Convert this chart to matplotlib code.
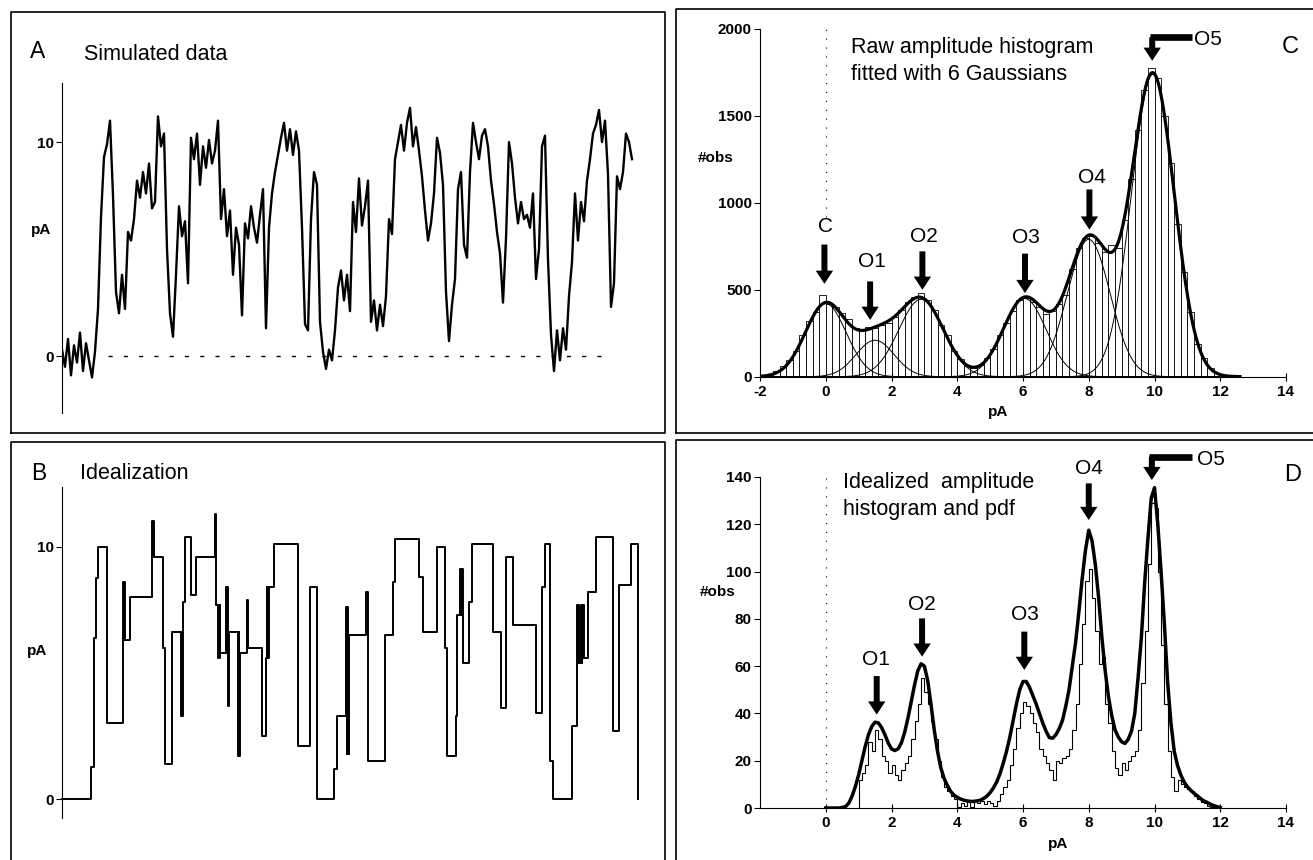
import numpy as np
import matplotlib.pyplot as plt
from matplotlib.lines import Line2D

plt.rcParams['font.family'] = ['Liberation Sans', 'DejaVu Sans']

W, H = 1313, 860

# A: simulated current trace (pA), one sample every a_dt time units
a_dt = 3
a_current = [
    0.3, -0.5, 0.8, -0.9, 0.5, -0.3, 1.1, -0.7, 0.6, -0.2, -1.0, 0.2,
    2.2, 6.5, 9.3, 9.9, 11.0, 7.5, 3.0, 2.0, 3.8, 2.2,
    5.8, 5.4, 6.4, 8.2, 7.4, 8.6, 7.6, 9.0, 6.9, 7.2,
    11.2, 9.8, 10.4, 5.0, 2.0, 0.9, 3.8, 7.0, 5.6, 6.3,
    3.4, 10.2, 9.2, 10.4, 8.0, 9.8, 8.8, 10.1, 9.0, 9.6,
    11.0, 6.4, 7.8, 5.6, 6.8, 3.8, 6.0, 5.2, 1.9, 6.2,
    5.5, 7.0, 6.0, 5.3, 6.6, 7.8, 1.3, 6.0, 7.6, 8.6,
    9.4, 10.2, 10.9, 9.6, 10.6, 9.4, 10.5, 9.6, 6.0, 1.5,
    1.2, 6.4, 8.6, 8.0, 1.6, 0.2, -0.6, 0.3, -0.2, 1.2,
    3.2, 4.0, 2.6, 3.8, 2.1, 7.2, 5.8, 8.3, 6.1, 7.0,
    8.2, 1.6, 2.6, 1.2, 2.4, 1.4, 2.8, 6.4, 5.7, 9.2,
    10.0, 10.8, 9.6, 10.9, 11.6, 9.8, 10.7, 9.6, 8.4, 6.8,
    5.4, 6.2, 7.6, 10.2, 9.5, 8.0, 3.0, 0.7, 2.4, 3.6,
    7.8, 8.6, 5.2, 4.6, 8.6, 10.9, 10.0, 9.2, 10.3, 10.6,
    9.8, 8.2, 7.1, 5.8, 4.8, 2.5, 5.5, 10.0, 9.0, 7.4,
    6.2, 7.2, 6.4, 6.6, 6.0, 7.6, 3.6, 5.0, 9.8, 10.3,
    4.5, 1.0, -0.7, 1.2, -0.2, 1.3, 0.3, 2.8, 4.4, 7.6,
    5.4, 7.2, 6.3, 8.2, 9.2, 10.4, 10.8, 11.5, 10.0, 11.0,
    8.5, 2.3, 3.4, 8.4, 7.8, 8.6, 10.4, 10.0, 9.2,
]
a_zero_line = (46, 543)

# B: idealized trace, level changes (time, pA)
b_time = [0, 29, 32, 34, 36, 45, 61, 61.5, 62, 62.5, 68, 90, 90.5, 91, 91.5,
          101, 103, 110, 119, 119.5, 120, 120.5, 123, 129, 134, 153, 153.5,
          156, 156.5, 157, 157.5, 158, 164, 164.5, 165, 165.5, 166.5, 176,
          176.5, 177, 177.5, 185, 186, 200, 204, 204.5, 205, 205.5, 206,
          206.5, 212, 236, 248, 255, 272, 275, 284, 284.5, 285, 285.5, 286,
          286.5, 287, 304, 306, 323, 331, 333, 357, 361, 375, 383, 385, 394,
          395, 398, 398.5, 399, 399.5, 400, 401, 407, 410, 431, 439, 444,
          451, 474, 480, 483, 488, 491, 510, 515, 515.5, 516, 516.5, 519,
          519.5, 520, 520.5, 521, 521.5, 526, 534, 551, 557, 569, 576]
b_level = [0, 1.26, 6.4, 8.75, 10.0, 3.0, 8.6, 6.3, 8.6, 6.3, 8.0, 11.0, 9.6,
           11.0, 9.6, 6.0, 1.4, 6.6, 3.3, 6.6, 3.3, 7.8, 10.4, 8.1, 9.6,
           11.3, 7.7, 5.6, 7.7, 5.6, 7.7, 5.8, 8.4, 5.8, 8.4, 3.7, 6.6, 1.7,
           6.6, 1.7, 5.8, 7.9, 6.0, 2.5, 5.6, 8.4, 5.6, 8.4, 5.6, 8.4, 10.1,
           2.1, 8.4, 0, 1.2, 3.3, 7.6, 1.8, 7.6, 1.8, 6.5, 1.8, 6.5, 8.2,
           1.5, 6.5, 8.6, 10.3, 8.8, 6.6, 10.0, 6.0, 1.7, 3.3, 7.3, 9.1,
           7.3, 9.1, 7.3, 9.1, 5.4, 7.8, 10.1, 6.6, 3.6, 9.6, 6.9, 3.4, 8.4,
           10.1, 1.5, 0, 2.9, 7.7, 5.4, 7.7, 5.4, 7.7, 5.4, 7.7, 5.6, 7.7,
           5.6, 8.2, 10.4, 2.7, 8.5, 10.1, 0]

# C: raw amplitude histogram, bins of 0.2 pA starting at -2.0
c_bin_start = -2.0
c_bin_width = 0.2
c_counts = [8, 15, 30, 60, 95, 150, 240, 320, 370, 470,
            420, 400, 365, 330, 280, 270, 285, 280, 300, 310,
            345, 385, 430, 460, 480, 440, 385, 300, 240, 150,
            100, 60, 50, 70, 110, 160, 240, 310, 380, 440,
            455, 430, 400, 360, 380, 420, 470, 620, 740, 800,
            810, 770, 720, 760, 740, 900, 1140, 1420, 1650, 1775,
            1720, 1500, 1230, 880, 600, 370, 190, 110, 50, 20,
            10, 4, 2]
# fitted Gaussians: C, O1..O5
c_means = [0.0, 1.5, 2.9, 6.05, 8.0, 9.95]
c_amps = [420, 210, 445, 450, 790, 1740]
c_sds = [0.62, 0.58, 0.68, 0.65, 0.65, 0.65]
c_labels = ['C', 'O1', 'O2', 'O3', 'O4']
c_label_x = [0.0, 1.4, 2.98, 6.1, 8.1]
c_label_y = [865, 660, 808, 803, 1146]
c_arrow_x = [-0.04, 1.35, 2.94, 6.06, 8.02]
c_arrow_top = [760, 548, 721, 708, 1077]
c_arrow_tip = [534, 327, 500, 481, 846]

# D: idealized amplitude histogram (bins of 0.1 pA from 1.0) and pdf
d_bin_start = 1.0
d_bin_width = 0.1
d_hist = [12, 15, 18, 28, 24, 33, 29, 22, 20, 15,
          18, 14, 12, 16, 19, 22, 29, 37, 44, 55,
          49, 44, 37, 29, 20, 13, 9, 7, 5, 4,
          0.5, 2, 1, 2.5, 0.5, 3, 2, 3, 1.5, 3,
          2, 1, 3, 6, 9, 12, 18, 25, 34, 40,
          45, 43, 40, 36, 32, 25, 22, 19, 16, 12,
          20, 19, 21, 22, 25, 33, 44, 61, 78, 96,
          101, 89, 75, 61, 64, 44, 36, 24, 17, 14,
          19, 16, 20, 22, 24, 33, 53, 75, 103, 129,
          127, 100, 69, 44, 24, 13, 7, 12, 10, 9,
          8, 7, 5, 4, 2.5, 2, 1, 0.5, 0.3, 0]
d_pdf_step = 0.1
d_pdf = [0, 0, 0, 0, 0, 0.2, 0.6, 2, 5, 9,
         14, 20, 26, 31, 34.5, 36.3, 36, 34, 31, 27.5,
         25, 24.3, 25, 27.5, 32, 38, 45, 52, 58, 61,
         60, 54, 44, 33, 24, 17, 12.5, 9.5, 7, 5.5,
         4.5, 3.8, 3.3, 3, 2.8, 2.8, 3, 3.3, 4, 5,
         6.5, 8.5, 11, 14.5, 19, 24, 30, 37, 44, 50,
         53.5, 53.5, 51, 47.5, 44, 40, 36, 32.5, 29.8, 29.5,
         31, 33.5, 37, 43, 50, 60, 70, 83, 97, 109,
         117.5, 113, 103, 89, 72, 58, 47, 39, 33, 30,
         28, 27.3, 29, 32.5, 40, 55, 72, 95, 114, 131,
         135.5, 120, 100, 78, 53, 36, 24, 18, 14, 11,
         9, 7.5, 6.2, 5.2, 4, 3, 2.4, 1.6, 1, 0.6, 0.2]
d_labels = ['O1', 'O2', 'O3', 'O4']
d_label_x = [1.54, 2.93, 6.07, 8.02]
d_label_y = [63, 86, 82, 143.4]
d_arrow_x = [1.55, 2.93, 6.04, 8.0]
d_arrow_top = [55.8, 80.2, 74.6, 137.3]
d_arrow_tip = [39.5, 64, 58.4, 121.8]

fig = plt.figure(figsize=(W / 100, H / 100), dpi=100)


def add_ax(left, top, right, bottom):
    return fig.add_axes([left / W, 1 - bottom / H, (right - left) / W, (bottom - top) / H])


def ftext(x, y, s, size, ha='left', weight='normal'):
    fig.text(x / W, 1 - y / H, s, fontsize=size, ha=ha, va='center', fontweight=weight)


def fline(xs, ys, lw=1.2):
    fig.add_artist(Line2D([x / W for x in xs], [1 - y / H for y in ys],
                          transform=fig.transFigure, color='black', lw=lw))


def style(ax):
    for s in ['top', 'right']:
        ax.spines[s].set_visible(False)
    for s in ['left', 'bottom']:
        ax.spines[s].set_linewidth(0.8)
    ax.tick_params(axis='y', direction='out', length=4, width=0.8, pad=2)
    ax.tick_params(axis='x', direction='inout', length=6, width=0.8, pad=3)


def arrow(ax, x, top, tip):
    ax.annotate('', xy=(x, tip), xytext=(x, top), annotation_clip=False,
                arrowprops=dict(width=4.3, headwidth=12.5, headlength=9.5, shrink=0,
                                facecolor='black', edgecolor='black', lw=0))


def bent_arrow(ax, x, bar_y, bar_end, tip, text_x, text_y):
    ax.plot([x - 0.08, bar_end], [bar_y, bar_y], color='black', lw=4.8,
            solid_capstyle='butt', clip_on=False)
    arrow(ax, x, bar_y, tip)
    ax.text(text_x, text_y, 'O5', fontsize=15, ha='left', va='center')


# panel boxes
fline([10.5, 10.5, 665, 665, 10.5], [433, 11.7, 11.7, 433, 433])
fline([10.5, 10.5, 665, 665], [860, 441.7, 441.7, 860])
fline([676, 676, 1313], [433, 9.3, 9.3])
fline([676, 1313], [433, 433])
fline([676, 676, 1313], [860, 440, 440])

# ---- A ----
axA = add_ax(62, 83, 635, 413)
a_time = np.arange(len(a_current)) * a_dt
axA.plot(a_time, a_current, color='black', lw=1.7)
axA.plot(a_zero_line, [0, 0], color='black', lw=1.0, ls=(0, (3, 8)))
axA.set_xlim(0, 573)
axA.set_ylim(-2.66, 12.76)
style(axA)
axA.spines['bottom'].set_visible(False)
axA.set_xticks([])
axA.set_yticks([0, 10], labels=['0', '10'], fontsize=11, fontweight='bold')
ftext(30, 51, 'A', 16.5)
ftext(84, 54, 'Simulated data', 15.5)
ftext(41, 230, 'pA', 11, ha='center', weight='bold')

# ---- B ----
axB = add_ax(62, 487, 635, 818)
axB.step(b_time, b_level, where='post', color='black', lw=1.4, clip_on=False)
axB.set_xlim(0, 573)
axB.set_ylim(-0.753, 12.366)
style(axB)
axB.spines['bottom'].set_visible(False)
axB.set_xticks([])
axB.set_yticks([0, 10], labels=['0', '10'], fontsize=11, fontweight='bold')
ftext(31, 474, 'B', 16.5)
ftext(80, 474, 'Idealization', 15.5)
ftext(37, 651, 'pA', 11, ha='center', weight='bold')

# ---- C ----
axC = add_ax(760, 29, 1286, 376.7)
c_centers = c_bin_start + c_bin_width * (np.arange(len(c_counts)) + 0.5)
axC.plot([0, 0], [920, 2000], color='black', lw=0.8, ls=(0, (1, 7)), zorder=0)
axC.bar(c_centers, c_counts, width=c_bin_width, facecolor='white',
        edgecolor='black', linewidth=0.6, zorder=1)
xs = np.linspace(-2, 12.6, 600)
total = np.zeros_like(xs)
for m, a, s in zip(c_means, c_amps, c_sds):
    g = a * np.exp(-(xs - m) ** 2 / (2 * s ** 2))
    total += g
    axC.plot(xs, g, color='black', lw=0.7, zorder=2)
axC.plot(xs, total, color='black', lw=2.3, zorder=3)
axC.set_xlim(-2, 14)
axC.set_ylim(0, 2000)
style(axC)
axC.set_xticks(range(-2, 15, 2), labels=[str(v) for v in range(-2, 15, 2)],
               fontsize=11, fontweight='bold')
axC.set_yticks(range(0, 2001, 500), labels=[str(v) for v in range(0, 2001, 500)],
               fontsize=11, fontweight='bold')
for lab, lx, ly, ax_, at, ap in zip(c_labels, c_label_x, c_label_y,
                                     c_arrow_x, c_arrow_top, c_arrow_tip):
    axC.text(lx, ly, lab, fontsize=15, ha='center', va='center')
    arrow(axC, ax_, at, ap)
bent_arrow(axC, 9.93, 1952, 11.13, 1817, 11.2, 1937)
ftext(716, 158, '#obs', 11, ha='center', weight='bold')
ftext(998, 412, 'pA', 11, ha='center', weight='bold')
ftext(851, 48, 'Raw amplitude histogram', 15.5)
ftext(851, 75, 'fitted with 6 Gaussians', 15.5)
ftext(1290, 47, 'C', 17, ha='center')

# ---- D ----
axD = add_ax(760, 477, 1286, 808)
d_edges = d_bin_start + d_bin_width * np.arange(len(d_hist) + 1)
d_x = d_pdf_step * np.arange(len(d_pdf))
axD.plot([0, 0], [0, 140], color='black', lw=0.8, ls=(0, (1, 7)), zorder=0)
axD.stairs(d_hist, d_edges, color='black', lw=0.8, zorder=1)
axD.plot(d_x, d_pdf, color='black', lw=2.5, zorder=2)
axD.set_xlim(-2, 14)
axD.set_ylim(0, 140)
style(axD)
axD.set_xticks(range(0, 15, 2), labels=[str(v) for v in range(0, 15, 2)],
               fontsize=11, fontweight='bold')
axD.set_yticks(range(0, 141, 20), labels=[str(v) for v in range(0, 141, 20)],
               fontsize=11, fontweight='bold')
for lab, lx, ly, ax_, at, ap in zip(d_labels, d_label_x, d_label_y,
                                     d_arrow_x, d_arrow_top, d_arrow_tip):
    axD.text(lx, ly, lab, fontsize=15, ha='center', va='center')
    arrow(axD, ax_, at, ap)
bent_arrow(axD, 9.92, 148.6, 11.14, 138.7, 11.3, 147.2)
ftext(718, 592, '#obs', 11, ha='center', weight='bold')
ftext(1058, 844, 'pA', 11, ha='center', weight='bold')
ftext(843, 482, 'Idealized  amplitude', 15.5)
ftext(843, 510, 'histogram and pdf', 15.5)
ftext(1293, 475, 'D', 17, ha='center')

fig.savefig('out.png', dpi=100)
